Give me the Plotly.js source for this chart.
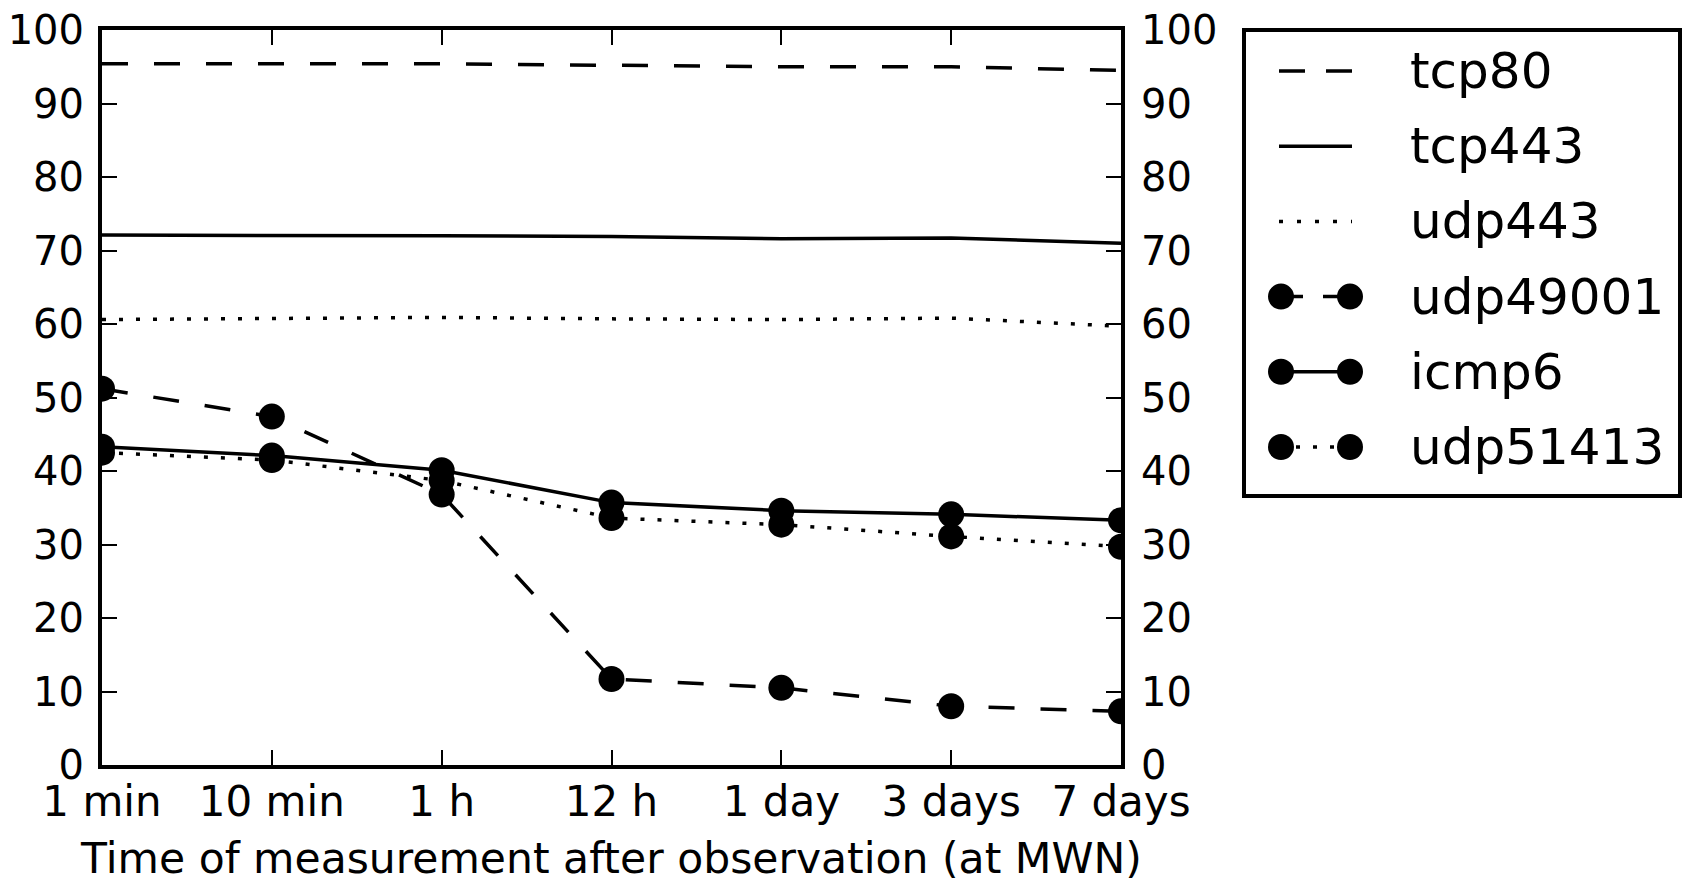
<!DOCTYPE html>
<html>
<head>
<meta charset="utf-8">
<script src="https://cdn.plot.ly/plotly-3.0.1.min.js"></script>
<style>
  html, body { margin: 0; padding: 0; background: #fff; }
  #chart { width: 1685px; height: 883px; }
</style>
</head>
<body>
<div id="chart"></div>
<script>
const categories = ["1 min", "10 min", "1 h", "12 h", "1 day", "3 days", "7 days"];
const tcp80    = [95.4, 95.4, 95.4, 95.2, 95.0, 95.0, 94.5];
const tcp443   = [72.1, 72.1, 72.0, 71.9, 71.6, 71.7, 71.0];
const udp443   = [60.6, 60.7, 60.9, 60.7, 60.6, 60.8, 59.7];
const udp49001 = [51.2, 47.4, 36.8, 11.7, 10.5, 8.0, 7.3];
const icmp6    = [43.3, 42.1, 40.1, 35.7, 34.6, 34.1, 33.3];
const udp51413 = [42.5, 41.5, 38.7, 33.6, 32.7, 31.1, 29.7];
const seriesNames = ["tcp80", "tcp443", "udp443", "udp49001", "icmp6", "udp51413"];
const yTicks = [0, 10, 20, 30, 40, 50, 60, 70, 80, 90, 100];

const FONT = "DejaVu Sans, Liberation Sans, sans-serif";
const LW = 3.5;
const MS = 26;
const DASH = "26px,26px";
const DOT = "4px,13px";

// plot-area pixel box (for placing the hand-drawn legend)
const PL = 102, PR = 1121, PT = 30, PB = 765;
const px = v => (v - PL) / (PR - PL);
const py = v => (PB - v) / (PB - PT);

const styles = [
  { dash: DASH, markers: false },
  { dash: "solid", markers: false },
  { dash: DOT, markers: false },
  { dash: DASH, markers: true },
  { dash: "solid", markers: true },
  { dash: DOT, markers: true }
];
const values = [tcp80, tcp443, udp443, udp49001, icmp6, udp51413];

const data = values.map((y, i) => ({
  x: categories, y: y, name: seriesNames[i], type: "scatter",
  mode: styles[i].markers ? "lines+markers" : "lines",
  line: { color: "#000", width: LW, dash: styles[i].dash },
  marker: { color: "#000", size: MS, symbol: "circle" },
  cliponaxis: true, showlegend: false,
  hoverinfo: "x+y+name"
}));
data.push({ x: categories, y: tcp80, yaxis: "y2", type: "scatter", mode: "lines",
  line: { color: "rgba(0,0,0,0)", width: 0 }, showlegend: false, hoverinfo: "skip" });

// hand-drawn legend (matplotlib style: line sample with two markers)
const shapes = [];
const annotations = [];
shapes.push({ type: "rect", xref: "paper", yref: "paper",
  x0: px(1244), x1: px(1680), y0: py(30), y1: py(496),
  line: { color: "#000", width: 4 }, fillcolor: "#fff", layer: "above" });
const legDash = ["26px,21px", "solid", "4px,14px", "24px,20px", "solid", "4px,13px"];
seriesNames.forEach((name, i) => {
  const cy = 71 + i * 75.2;
  const xA = 1279, xB = 1352;
  shapes.push({ type: "line", xref: "paper", yref: "paper",
    x0: px(xA), x1: px(xB), y0: py(cy), y1: py(cy),
    line: { color: "#000", width: LW, dash: legDash[i] }, layer: "above" });
  if (styles[i].markers) {
    [1281, 1350].forEach(mx => {
      shapes.push({ type: "circle", xref: "paper", yref: "paper",
        xsizemode: "pixel", ysizemode: "pixel",
        xanchor: px(mx), yanchor: py(cy),
        x0: -MS / 2, x1: MS / 2, y0: -MS / 2, y1: MS / 2,
        line: { color: "#000", width: 0 }, fillcolor: "#000", layer: "above" });
    });
  }
  annotations.push({ xref: "paper", yref: "paper", x: px(1408), y: py(cy),
    xanchor: "left", yanchor: "middle", showarrow: false, text: name,
    font: { family: FONT, size: 50, color: "#000" } });
});

const layout = {
  width: 1685, height: 883,
  margin: { l: PL, r: 1685 - PR, t: PT, b: 883 - PB, pad: 0 },
  paper_bgcolor: "#fff", plot_bgcolor: "#fff",
  font: { family: FONT, color: "#000", size: 40 },
  showlegend: false,
  shapes: shapes,
  annotations: annotations,
  xaxis: {
    type: "category",
    range: [0, 6],
    tickvals: categories, ticktext: categories,
    ticks: "inside", ticklen: 15, tickwidth: 2, tickcolor: "#000",
    showline: true, linewidth: 4, linecolor: "#000", mirror: "ticks",
    showgrid: false, zeroline: false,
    tickfont: { family: FONT, size: 42, color: "#000" },
    ticklabelstandoff: -3,
    title: { text: "Time of measurement after observation (at MWN)", font: { family: FONT, size: 42.5, color: "#000" }, standoff: 22 },
    automargin: false, fixedrange: true
  },
  yaxis: {
    range: [0, 100],
    tickvals: yTicks,
    ticks: "inside", ticklen: 15, tickwidth: 2, tickcolor: "#000",
    showline: true, linewidth: 4, linecolor: "#000", mirror: "ticks",
    showgrid: false, zeroline: false,
    tickfont: { family: FONT, size: 40, color: "#000" },
    ticklabelstandoff: 6,
    automargin: false, fixedrange: true
  },
  yaxis2: {
    overlaying: "y", side: "right",
    range: [0, 100],
    tickvals: yTicks,
    ticks: "", showline: false, showgrid: false, zeroline: false,
    tickfont: { family: FONT, size: 40, color: "#000" },
    ticklabelstandoff: 19,
    automargin: false, fixedrange: true
  }
};

Plotly.newPlot("chart", data, layout, { staticPlot: true, displayModeBar: false });
</script>
</body>
</html>
